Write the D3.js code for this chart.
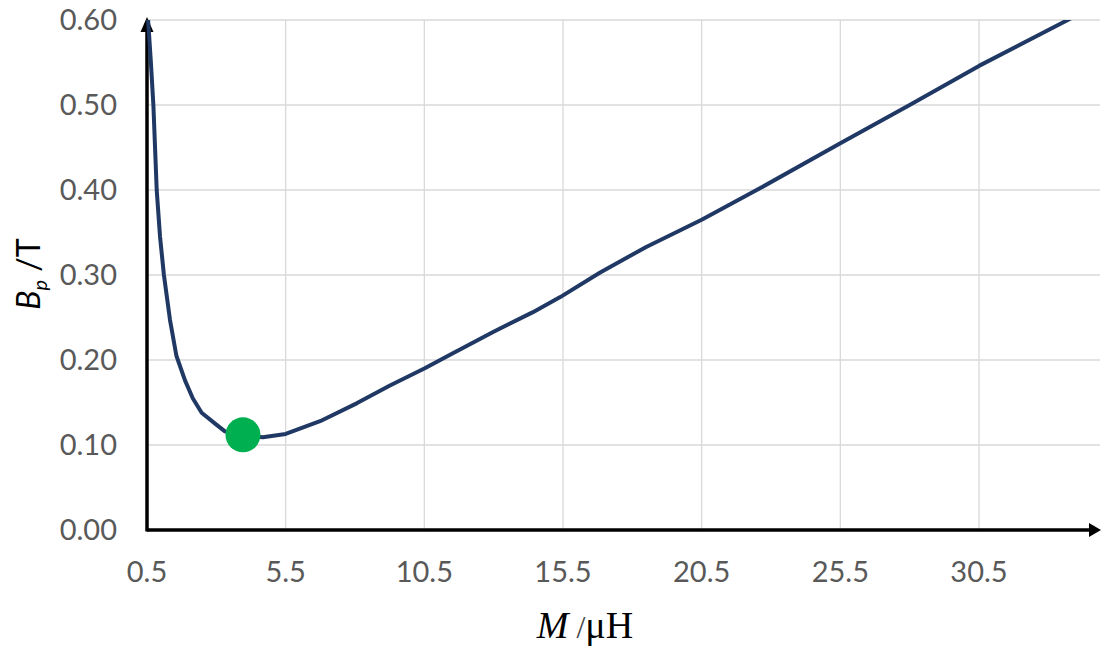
<!DOCTYPE html>
<meta charset='utf-8'>
<style>
body {
    margin: 0;
    background: #fff;
}

.grid line {
    stroke: #d9d9d9;
    stroke-width: 1.3px;
}

.tick-label {
    font-family: Lato, 'Liberation Sans', sans-serif;
    font-size: 29px;
    fill: #595959;
}

.curve {
    fill: none;
    stroke: #203864;
    stroke-width: 4px;
    stroke-linejoin: round;
}

.axis-line {
    stroke: #000;
    stroke-width: 3.5px;
}
</style>

<body>
    <div class='chart'></div>
    <script src='https://d3js.org/d3.v7.min.js'></script>
    <script>
    // values
    var mValues = [0.5, 0.54, 0.64, 0.73, 0.85, 0.97, 1.11, 1.33, 1.56, 1.87, 2.15, 2.47, 3.0, 3.31, 3.96, 4.68, 5.5,
        6.74, 8.06, 9.26, 10.5, 11.53, 12.98, 14.4, 15.4, 16.84, 18.5, 20.5, 22.6, 25.5, 28.0, 30.5, 33.7, 35];
    var bValues = [0.62, 0.60, 0.55, 0.50, 0.40, 0.345, 0.30, 0.247, 0.205, 0.176, 0.155, 0.138, 0.124, 0.116, 0.111, 0.109, 0.113,
        0.128, 0.149, 0.170, 0.190, 0.208, 0.233, 0.256, 0.274, 0.303, 0.333, 0.365, 0.402, 0.455, 0.500, 0.546, 0.600, 0.623];
    var optimum = [3.96, 0.112];

    var xTicks = [0.5, 5.5, 10.5, 15.5, 20.5, 25.5, 30.5];
    var yTicks = [0, 0.1, 0.2, 0.3, 0.4, 0.5, 0.6];

    var width = 1101,
        height = 648;
    var plotLeft = 147, plotRight = 1100, plotTop = 20, plotBottom = 530;

    var x = d3.scaleLinear()
        .domain([0.5, 30.5])
        .range([plotLeft, 979]);
    var y = d3.scaleLinear()
        .domain([0, 0.6])
        .range([plotBottom, plotTop]);

    var svg = d3.select('.chart').append('svg')
        .attr('width', width)
        .attr('height', height);

    svg.append('defs').append('clipPath')
        .attr('id', 'plot')
        .append('rect')
        .attr('x', plotLeft - 6)
        .attr('y', plotTop)
        .attr('width', plotRight - plotLeft + 6)
        .attr('height', plotBottom - plotTop);

    var grid = svg.append('g').attr('class', 'grid');

    grid.selectAll('.h')
        .data(yTicks.slice(1))
        .enter().append('line')
        .attr('x1', plotLeft)
        .attr('x2', plotRight)
        .attr('y1', function(d) { return y(d); })
        .attr('y2', function(d) { return y(d); });

    grid.selectAll('.v')
        .data(xTicks.slice(1))
        .enter().append('line')
        .attr('x1', function(d) { return x(d); })
        .attr('x2', function(d) { return x(d); })
        .attr('y1', plotTop)
        .attr('y2', plotBottom);

    // tick labels
    svg.selectAll('.ylab')
        .data(yTicks)
        .enter().append('text')
        .attr('class', 'tick-label')
        .attr('x', 117)
        .attr('y', function(d) { return y(d); })
        .attr('dy', '0.36em')
        .attr('text-anchor', 'end')
        .text(d3.format('.2f'));

    svg.selectAll('.xlab')
        .data(xTicks)
        .enter().append('text')
        .attr('class', 'tick-label')
        .attr('x', function(d) { return x(d); })
        .attr('y', 582)
        .attr('text-anchor', 'middle')
        .text(d3.format('.1f'));

    // axes with arrows
    svg.append('line')
        .attr('class', 'axis-line')
        .attr('x1', plotLeft).attr('x2', plotRight - 10)
        .attr('y1', plotBottom).attr('y2', plotBottom);
    svg.append('line')
        .attr('class', 'axis-line')
        .attr('x1', plotLeft).attr('x2', plotLeft)
        .attr('y1', plotBottom + 1.5).attr('y2', plotTop + 10);
    svg.append('path')
        .attr('d', 'M' + (plotRight + 1) + ',' + plotBottom + 'L' + (plotRight - 11) + ',' + (plotBottom - 7) + 'L' + (plotRight - 11) + ',' + (plotBottom + 7) + 'Z')
        .attr('fill', '#000');
    svg.append('path')
        .attr('d', 'M' + plotLeft + ',' + (plotTop - 3) + 'L' + (plotLeft - 6.5) + ',' + (plotTop + 12) + 'L' + (plotLeft + 6.5) + ',' + (plotTop + 12) + 'Z')
        .attr('fill', '#000');

    // the curve
    var data = mValues.map(function(m, i) { return [m, bValues[i]]; });
    var line = d3.line()
        .x(function(d) { return x(d[0]); })
        .y(function(d) { return y(d[1]); });

    svg.append('path')
        .datum(data)
        .attr('class', 'curve')
        .attr('clip-path', 'url(#plot)')
        .attr('d', line);

    svg.append('circle')
        .attr('cx', x(optimum[0]))
        .attr('cy', y(optimum[1]))
        .attr('r', 17.5)
        .attr('fill', '#00b050');

    // axis titles
    var yTitle = svg.append('text')
        .attr('transform', 'translate(40,274) rotate(-90)')
        .attr('text-anchor', 'middle')
        .style('font-family', "Lato, 'Liberation Sans', sans-serif")
        .style('font-size', '32px')
        .style('fill', '#000');
    yTitle.append('tspan').style('font-style', 'italic').text('B');
    yTitle.append('tspan').style('font-style', 'italic').style('font-size', '20px').attr('dy', 7).text('p');
    yTitle.append('tspan').attr('dy', -7).text(' /T');

    var xTitle = svg.append('text')
        .attr('x', 585)
        .attr('y', 638)
        .attr('text-anchor', 'middle')
        .style('font-family', "'Liberation Serif', 'DejaVu Serif', serif")
        .style('font-size', '38px')
        .style('fill', '#000');
    xTitle.append('tspan').style('font-style', 'italic').text('M');
    xTitle.append('tspan').style('font-size', '32px').style('fill', '#444').text(' /');
    xTitle.append('tspan').text('μH');
    </script>
</body>
